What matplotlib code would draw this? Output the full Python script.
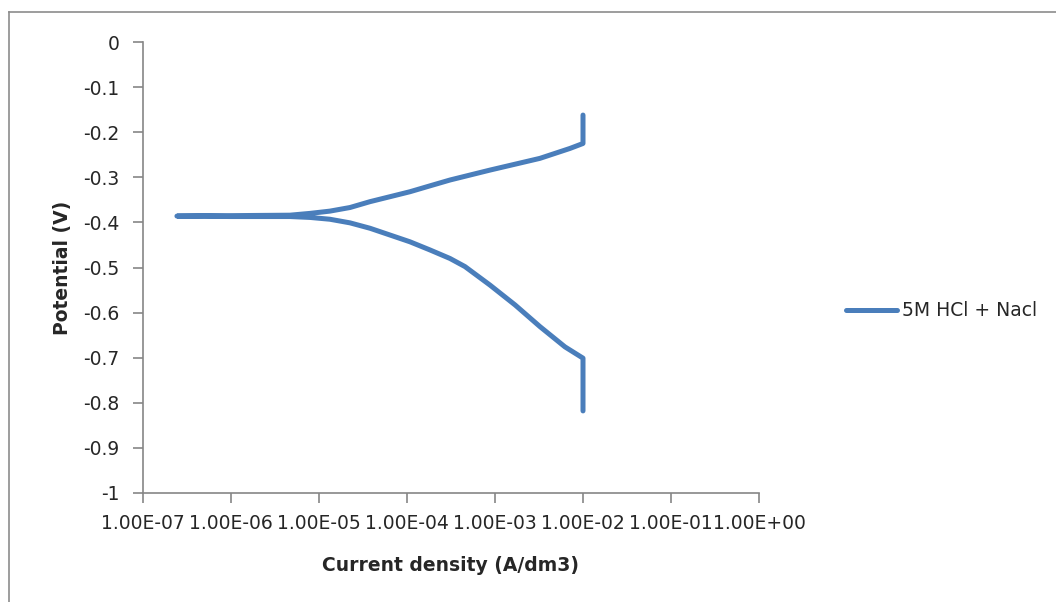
import matplotlib
matplotlib.use("Agg")
import matplotlib.pyplot as plt
from matplotlib.lines import Line2D
from matplotlib.ticker import FuncFormatter, FixedLocator, NullLocator

plt.rcParams['font.family'] = ['DejaVu Sans']
plt.rcParams['axes.unicode_minus'] = False

# Tafel scan: cathodic branch in, anodic branch out
current = [1.0e-2, 1.0e-2, 6.24e-3, 3.24e-3, 1.69e-3, 8.77e-4, 4.56e-4, 3.08e-4,
           1.82e-4, 1.08e-4, 6.41e-5, 3.80e-5, 2.25e-5, 1.33e-5, 7.91e-6,
           4.68e-6, 1.0e-6, 2.43e-7,
           5.0e-7, 1.0e-6, 4.68e-6, 7.91e-6, 1.33e-5, 2.25e-5, 3.80e-5,
           6.41e-5, 1.08e-4, 1.82e-4, 3.08e-4, 8.77e-4, 3.24e-3, 7.11e-3,
           1.0e-2, 1.0e-2]
potential = [-0.818, -0.701, -0.676, -0.631, -0.583, -0.539, -0.498, -0.480,
             -0.461, -0.443, -0.428, -0.413, -0.401, -0.393, -0.389,
             -0.387, -0.387, -0.386,
             -0.385, -0.385, -0.384, -0.380, -0.375, -0.367, -0.354,
             -0.343, -0.332, -0.319, -0.306, -0.284, -0.258, -0.236,
             -0.225, -0.162]
series_name = '5M HCl + Nacl'

x_ticks = [1e-7, 1e-6, 1e-5, 1e-4, 1e-3, 1e-2, 1e-1, 1e0]
y_ticks = [0, -0.1, -0.2, -0.3, -0.4, -0.5, -0.6, -0.7, -0.8, -0.9, -1]

grey = '#868686'
text_col = '#262626'

fig = plt.figure(figsize=(10.56, 6.02), dpi=100)
ax = fig.add_axes([143 / 1056, 1 - 493 / 602, 616 / 1056, 451 / 602])

ax.plot(current, potential, color='#4A7EBB', linewidth=3.6,
        solid_joinstyle='round', solid_capstyle='round', label=series_name)

ax.set_xscale('log')
ax.set_xlim(1e-7, 1e0)
ax.set_ylim(-1, 0)
ax.xaxis.set_major_locator(FixedLocator(x_ticks))
ax.xaxis.set_minor_locator(NullLocator())
ax.xaxis.set_major_formatter(FuncFormatter(lambda v, p: f"{v:.2E}"))
ax.set_yticks(y_ticks)
ax.yaxis.set_major_formatter(FuncFormatter(lambda v, p: f"{v:g}"))

for s in ['top', 'right']:
    ax.spines[s].set_visible(False)
for s in ['left', 'bottom']:
    ax.spines[s].set_color(grey)
    ax.spines[s].set_linewidth(1.2)
ax.tick_params(direction='out', length=7, width=1.2, color=grey,
               labelsize=13.5, labelcolor=text_col, pad=10)
ax.tick_params(axis='x', pad=8)

ax.set_xlabel('Current density (A/dm3)', fontsize=13.5, fontweight='bold',
              color=text_col, labelpad=17)
ax.set_ylabel('Potential (V)', fontsize=13.5, fontweight='bold',
              color=text_col, labelpad=8)

fig.legend(loc='center left', bbox_to_anchor=(829 / 1056, 1 - 311 / 602),
           frameon=False, fontsize=13.5, handlelength=2.7, handletextpad=0.3,
           labelcolor=text_col)

# chart area border (only top and left edges visible in frame)
fig.add_artist(Line2D([9 / 1056, 9 / 1056], [0, 1 - 12 / 602],
                      transform=fig.transFigure, color='#8c8c8c', lw=1.2))
fig.add_artist(Line2D([9 / 1056, 1], [1 - 12 / 602, 1 - 12 / 602],
                      transform=fig.transFigure, color='#8c8c8c', lw=1.2))

fig.savefig('out.png', dpi=100)
